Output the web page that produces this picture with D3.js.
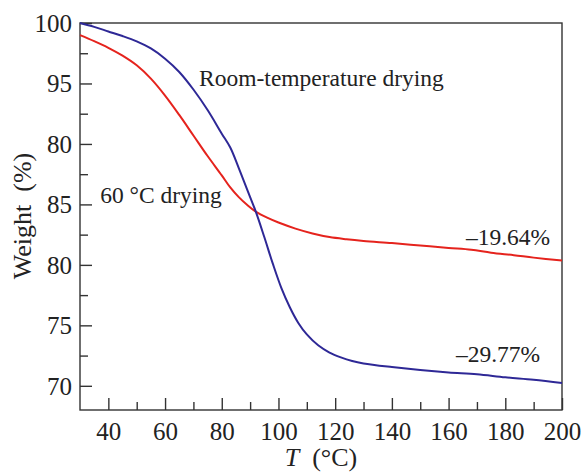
<!DOCTYPE html>
<html lang="en">
<head>
    <meta charset="UTF-8">
    <title>TG curves</title>
    <script src="https://cdn.jsdelivr.net/npm/d3@7"></script>
    <style>
    html,body{
        margin:0;
        background:#fff;
    }
    svg text{
        font-family:"Liberation Serif","Times New Roman",serif;
        fill:#222;
    }
    </style>
</head>
<body>
<script>
    // temperature (°C) and weight (%)
    const roomT = [30,35,40,45,50,55,60,65,70,75,80,83,86,89,92,95,98,101,104,107,110,114,118,122,126,130,140,150,160,170,180,190,200];
    const roomW = [100.0,99.68,99.3,98.92,98.48,97.9,97.05,95.95,94.5,92.8,90.85,89.7,88.0,86.2,84.4,82.3,80.1,78.1,76.5,75.2,74.25,73.35,72.75,72.35,72.05,71.85,71.55,71.3,71.1,70.95,70.7,70.5,70.23];

    const ovenT = [30,35,40,45,50,55,60,65,70,75,80,83,86,89,92,96,100,106,112,118,124,130,140,150,160,168,175,183,190,200];
    const ovenW = [99.0,98.5,97.95,97.3,96.5,95.4,94.0,92.4,90.7,89.0,87.4,86.4,85.6,84.95,84.4,83.9,83.5,83.0,82.6,82.3,82.12,81.98,81.8,81.6,81.4,81.25,81.0,80.8,80.6,80.36];

    const xTicks = [40,60,80,100,120,140,160,180,200];
    const xMinor = [50,70,90,110,130,150,170,190];
    const yTicks = [100,95,90,85,80,75,70];
    // the source figure really prints "80" at the 90 tick
    const yTickLabels = ["100","95","80","85","80","75","70"];
    const yMinor = [97.5,92.5,87.5,82.5,77.5,72.5];

    const width = 584, height = 474;
    const margin = {left:80, right:22, top:23, bottom:64};
    const serif = "'Liberation Serif','Times New Roman',serif";

    const svg = d3.select("body").append("svg")
        .attr("width", width)
        .attr("height", height);

    const x = d3.scaleLinear().domain([30,200]).range([margin.left, width - margin.right]);
    const y = d3.scaleLinear().domain([68,100]).range([height - margin.bottom, margin.top]);

    const axisColor = "#333";

    // frame
    svg.append("rect")
        .attr("x", x(30)).attr("y", y(100))
        .attr("width", x(200) - x(30)).attr("height", y(68) - y(100))
        .attr("fill", "none").attr("stroke", axisColor).attr("stroke-width", 1.4);

    // x axis, ticks point inward
    let gx = svg.append("g").attr("transform", `translate(0,${y(68)})`)
        .call(d3.axisBottom(x).tickValues(xTicks).tickSize(-12).tickPadding(10).tickFormat(d3.format("d")));
    gx.select(".domain").remove();
    gx.selectAll("line").attr("stroke", axisColor).attr("stroke-width", 1.4);
    gx.selectAll("text").style("font-family", serif).style("font-size", "25px")
        .attr("fill", "#222").attr("dy", "0.72em").attr("y", 12);

    let gxm = svg.append("g").attr("transform", `translate(0,${y(68)})`)
        .call(d3.axisBottom(x).tickValues(xMinor).tickSize(-8).tickFormat(""));
    gxm.select(".domain").remove();
    gxm.selectAll("line").attr("stroke", axisColor).attr("stroke-width", 1.4);

    // y axis
    let gy = svg.append("g").attr("transform", `translate(${x(30)},0)`)
        .call(d3.axisLeft(y).tickValues(yTicks).tickSize(-12).tickPadding(8)
            .tickFormat((d,i) => yTickLabels[i]));
    gy.select(".domain").remove();
    gy.selectAll("line").attr("stroke", axisColor).attr("stroke-width", 1.4);
    gy.selectAll("text").style("font-family", serif).style("font-size", "25px")
        .attr("fill", "#222").attr("x", -8).attr("dy", "0.34em");

    let gym = svg.append("g").attr("transform", `translate(${x(30)},0)`)
        .call(d3.axisLeft(y).tickValues(yMinor).tickSize(-8).tickFormat(""));
    gym.select(".domain").remove();
    gym.selectAll("line").attr("stroke", axisColor).attr("stroke-width", 1.4);

    // curves
    const line = d3.line()
        .curve(d3.curveCatmullRom.alpha(0.5))
        .x(d => x(d[0]))
        .y(d => y(d[1]));

    svg.append("path")
        .datum(ovenT.map((t,i) => [t, ovenW[i]]))
        .attr("fill", "none")
        .attr("stroke", "#e5231d")
        .attr("stroke-width", 2)
        .attr("d", line);

    svg.append("path")
        .datum(roomT.map((t,i) => [t, roomW[i]]))
        .attr("fill", "none")
        .attr("stroke", "#2e2896")
        .attr("stroke-width", 2)
        .attr("d", line);

    // annotations
    svg.append("text").attr("x", x(72)).attr("y", y(94.8))
        .style("font-size", "23.5px").text("Room-temperature drying");
    svg.append("text").attr("x", x(37.1)).attr("y", y(85.1))
        .style("font-size", "23.5px").text("60 °C drying");
    svg.append("text").attr("x", x(195.8)).attr("y", y(81.65))
        .attr("text-anchor", "end").style("font-size", "23.5px").text("–19.64%");
    svg.append("text").attr("x", x(192.3)).attr("y", y(71.93))
        .attr("text-anchor", "end").style("font-size", "23.5px").text("–29.77%");

    // axis titles
    let xt = svg.append("text")
        .attr("x", (x(30) + x(200)) / 2).attr("y", 466)
        .attr("text-anchor", "middle").style("font-size", "26px");
    xt.append("tspan").attr("font-style", "italic").text("T");
    xt.append("tspan").text("\u00a0\u00a0(°C)");

    svg.append("text")
        .attr("transform", "translate(31,216) rotate(-90)")
        .attr("text-anchor", "middle").style("font-size", "26px")
        .text("Weight\u00a0\u00a0(%)");
</script>
</body>
</html>
